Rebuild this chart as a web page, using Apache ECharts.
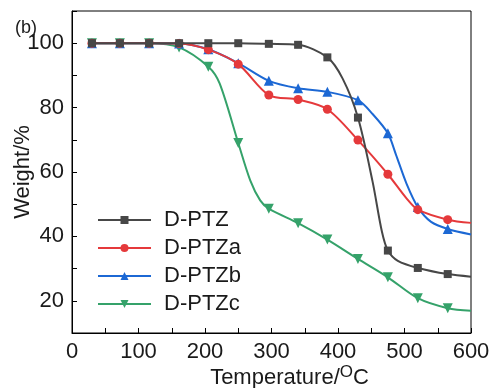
<!DOCTYPE html>
<html>
<head>
<meta charset="utf-8">
<script src="https://cdn.jsdelivr.net/npm/echarts@6/dist/echarts.min.js"></script>
<style>
html,body{margin:0;padding:0;background:#fff;}
#c{width:494px;height:388px;}
</style>
</head>
<body>
<div id="c"></div>
<script>
// Marker temperatures (°C)
var markerTemps = [30, 72, 116, 161, 205, 250, 296, 340, 384, 430, 475, 520, 565];
// Weight (%) at the marker temperatures
var ptz  = [100, 100, 100, 100, 100, 100, 99.8, 99.5, 95.6, 76.9, 35.6, 30.2, 28.3];
var ptzA = [100, 100, 100, 99.9, 98.0, 93.5, 83.9, 82.5, 79.5, 69.9, 59.3, 48.3, 45.2];
var ptzB = [100, 100, 100, 99.9, 98.1, 93.8, 88.3, 86.0, 84.9, 82.3, 72.0, 49.1, 42.3];
var ptzC = [100, 100, 100, 98.7, 92.7, 69.0, 48.6, 44.1, 39.0, 33.0, 27.3, 20.8, 17.7];
// Extra curve points between markers [temperature, weight]
var ptzExtra  = [[407, 89.0], [452, 57.0], [466, 41.5], [490, 32.4], [600, 27.5]];
var ptzAExtra = [[503, 51.8], [600, 44.2]];
var ptzBExtra = [[452, 78.0], [487, 65.5], [503, 56.4], [540, 44.5], [600, 40.6]];
var ptzCExtra = [[222, 87.5], [268, 57.4], [283, 51.2], [600, 16.9]];

var names = ['D-PTZ', 'D-PTZa', 'D-PTZb', 'D-PTZc'];
var colors = ['#474747', '#e5393b', '#1c68d4', '#35a26a'];
var xTicks = [0, 100, 200, 300, 400, 500, 600];
var yTicks = [20, 40, 60, 80, 100];

function build(vals, extra) {
  var d = markerTemps.map(function (t, i) { return { value: [t, vals[i]] }; });
  extra.forEach(function (p) { d.push({ value: p, symbol: 'none' }); });
  d.sort(function (a, b) { return a.value[0] - b.value[0]; });
  return d;
}
var datas = [build(ptz, ptzExtra), build(ptzA, ptzAExtra), build(ptzB, ptzBExtra), build(ptzC, ptzCExtra)];
var symbols = ['rect', 'circle', 'triangle', 'triangle'];
var sizes = [8, 9, 10, 10];
var rots = [0, 0, 0, 180];

var font = 'Liberation Sans, Arial, sans-serif';
var chart = echarts.init(document.getElementById('c'));
chart.setOption({
  animation: false,
  backgroundColor: '#fff',
  textStyle: { fontFamily: font },
  title: {
    text: '(b)', left: 10, top: 14,
    textStyle: { fontFamily: font, fontSize: 18, fontWeight: 'normal', color: '#1a1a1a' }
  },
  grid: {
    left: 72, right: 23, top: 11, bottom: 55,
    containLabel: false, outerBoundsMode: 'none',
    show: true, borderColor: '#000', borderWidth: 1
  },
  legend: {
    orient: 'vertical', left: 92, top: 204,
    itemWidth: 53, itemHeight: 10, itemGap: 6,
    textStyle: { fontFamily: font, fontSize: 22, color: '#1a1a1a', padding: [0, 0, 0, 8] },
    data: names
  },
  xAxis: {
    type: 'value', min: 0, max: 600, interval: 50,
    name: 'Temperature/{sup|O}C',
    nameLocation: 'middle', nameGap: 31, nameMoveOverlap: false,
    nameTextStyle: {
      fontFamily: font, fontSize: 22, color: '#1a1a1a', padding: [0, 0, 0, 36],
      rich: { sup: { fontFamily: font, fontSize: 17, color: '#1a1a1a', padding: [0, 0, 10, 0] } }
    },
    axisLine: { lineStyle: { color: '#000', width: 1 } },
    axisTick: { inside: true, length: 5, lineStyle: { color: '#000' } },
    axisLabel: {
      fontFamily: font, fontSize: 22, color: '#1a1a1a', margin: 8,
      formatter: function (v) { return xTicks.indexOf(v) >= 0 ? String(v) : ''; }
    },
    splitLine: { show: false }
  },
  yAxis: {
    type: 'value', min: 10, max: 110, interval: 10,
    name: 'Weight/%',
    nameLocation: 'middle', nameGap: 38, nameMoveOverlap: false,
    nameTextStyle: { fontFamily: font, fontSize: 22, color: '#1a1a1a' },
    axisLine: { lineStyle: { color: '#000', width: 1 } },
    axisTick: { inside: true, length: 5, lineStyle: { color: '#000' } },
    axisLabel: {
      fontFamily: font, fontSize: 22, color: '#1a1a1a', margin: 8,
      formatter: function (v) { return yTicks.indexOf(v) >= 0 ? String(v) : ''; }
    },
    splitLine: { show: false }
  },
  series: names.map(function (n, i) {
    return {
      name: n, type: 'line', data: datas[i],
      smooth: 0.3,
      symbol: symbols[i], symbolSize: sizes[i], symbolRotate: rots[i],
      showAllSymbol: true,
      lineStyle: { color: colors[i], width: 2 },
      itemStyle: { color: colors[i] },
      z: 4 - i
    };
  })
});
</script>
</body>
</html>
